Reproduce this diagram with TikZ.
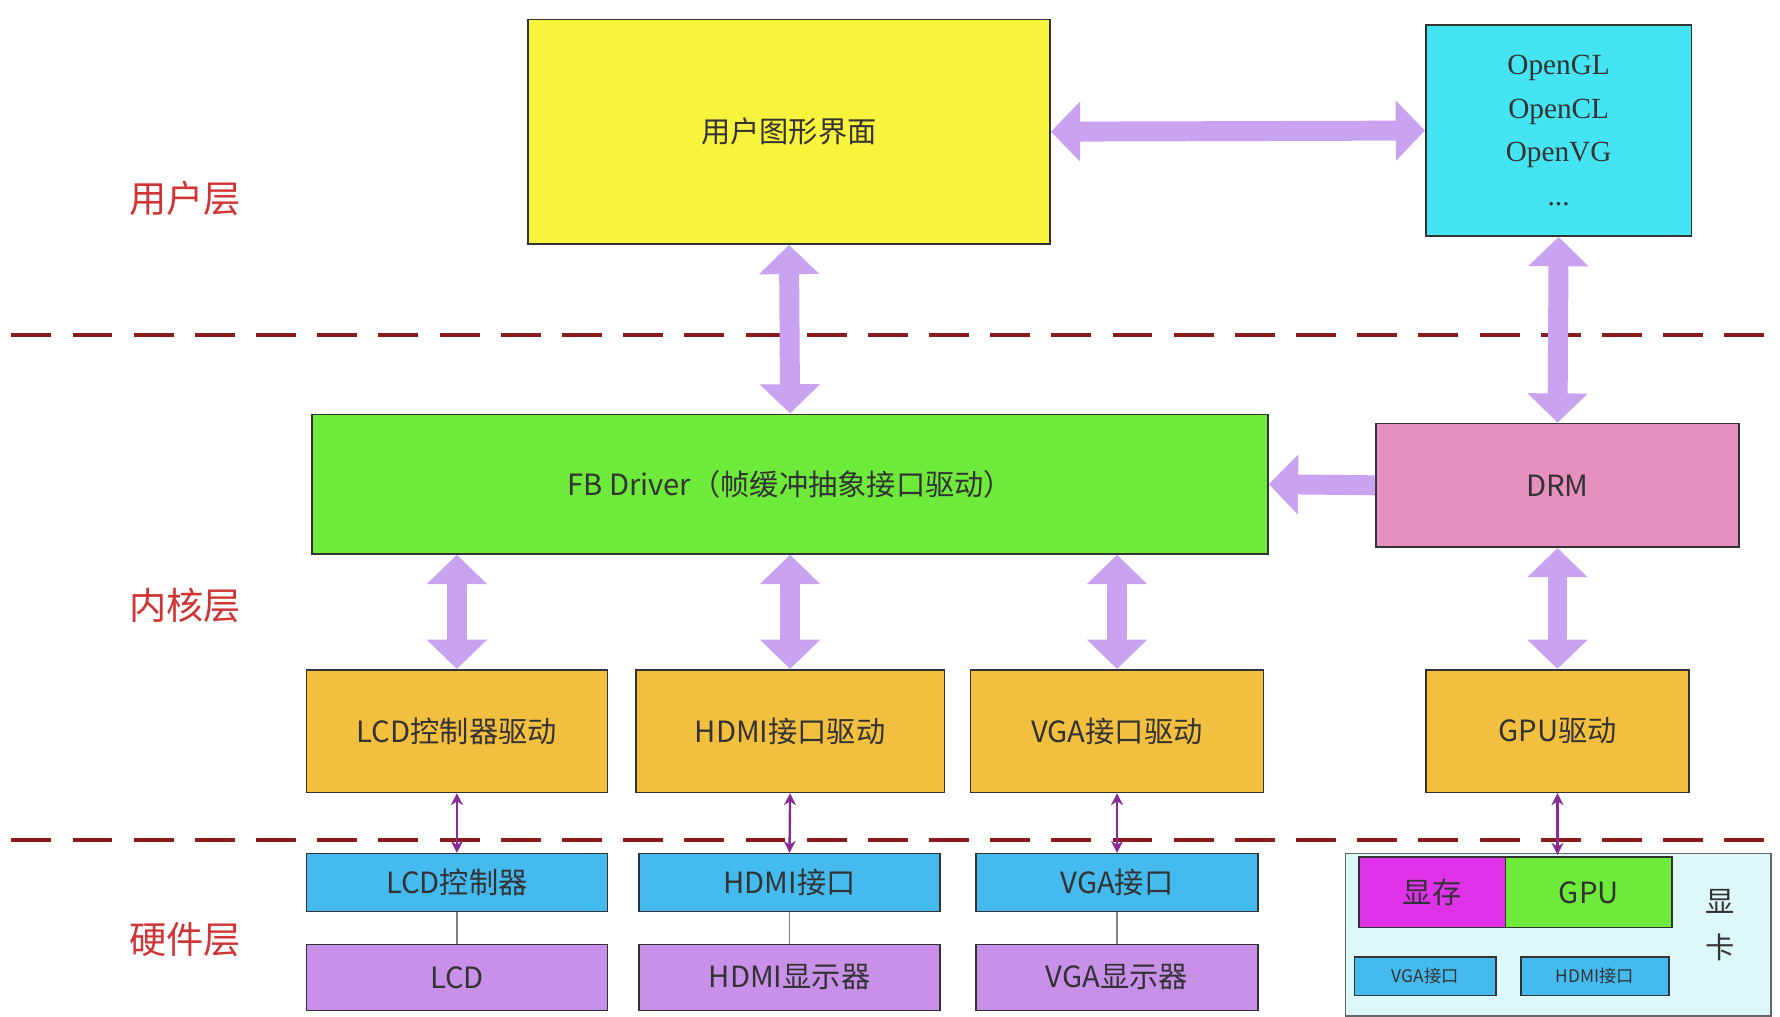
\documentclass[tikz,border=0pt]{standalone}
\usepackage{fontspec}
\setmainfont{Liberation Serif}
\newfontfamily\cjk{Noto Sans CJK SC}
\usetikzlibrary{arrows.meta}
\definecolor{cyel}{HTML}{F8F33C}
\definecolor{ccy}{HTML}{44E4F2}
\definecolor{cgr}{HTML}{6EEA3A}
\definecolor{cpk}{HTML}{E690C0}
\definecolor{cor}{HTML}{F2C03E}
\definecolor{cbl}{HTML}{44BAEE}
\definecolor{cpu}{HTML}{C890E8}
\definecolor{cmg}{HTML}{E032E8}
\definecolor{clav}{HTML}{C9A2F0}
\definecolor{cred}{HTML}{D03434}
\definecolor{cdash}{HTML}{8B1A1A}
\definecolor{ccard}{HTML}{DDF8F8}
\definecolor{ctxt}{HTML}{333333}
\definecolor{cthin}{HTML}{8A2A96}
\begin{document}
\begin{tikzpicture}[x=0.03cm,y=-0.03cm,
  box/.style={draw=black!80,line width=1.2pt,inner sep=0pt,text=ctxt,font=\cjk\fontsize{22}{26}\selectfont},
  sz/.style 2 args={minimum width=#1*0.03cm,minimum height=#2*0.03cm},
  lay/.style={text=cred,font=\cjk\fontsize{28}{32}\selectfont},
  fat/.style={draw=clav,line width=15pt,{Triangle[width=44pt,length=22pt]}-{Triangle[width=44pt,length=22pt]},fill=clav},
  fatone/.style={draw=clav,line width=15pt,-{Triangle[width=44pt,length=22pt]},fill=clav},
  thin/.style={draw=cthin,line width=1.8pt,{Stealth[length=9pt,width=9pt]}-{Stealth[length=9pt,width=9pt]}},
  gline/.style={draw=gray,line width=1pt},
  sep/.style={draw=cdash,line width=3.5pt,dash pattern=on 30pt off 16pt}]
\useasboundingbox (0,0) rectangle (1568,895);
\draw[sep] (10,295) -- (1568,295);
\draw[sep] (10,740) -- (1568,740);
\node[lay] (l1) at (163,175) {用户层};
\node[lay] (l2) at (163,533) {内核层};
\node[lay] (l3) at (163,828) {硬件层};
\node[box,fill=cyel,sz={460}{198}] (ui) at (695,116) {用户图形界面};
\node[box,fill=ccy,sz={234}{186},align=center,font=\fontsize{22}{33}\selectfont] (ogl) at (1373,115) {OpenGL\\OpenCL\\OpenVG\\...};
\node[box,fill=cgr,sz={842}{123}] (fb) at (696,426.5) {FB Driver（帧缓冲抽象接口驱动）};
\node[box,fill=cpk,sz={320}{109}] (drm) at (1372,427.5) {DRM};
\node[box,fill=cor,sz={265}{108}] (lcdd) at (402.5,644) {LCD控制器驱动};
\node[box,fill=cor,sz={272}{108}] (hdmid) at (696,644) {HDMI接口驱动};
\node[box,fill=cor,sz={258}{108}] (vgad) at (984,644) {VGA接口驱动};
\node[box,fill=cor,sz={232}{108}] (gpud) at (1372,644) {GPU驱动};
\node[box,fill=cbl,sz={265}{51}] (lcdc) at (402.5,777.5) {LCD控制器};
\node[box,fill=cbl,sz={265}{51}] (hdmic) at (695.5,777.5) {HDMI接口};
\node[box,fill=cbl,sz={248}{51}] (vgac) at (984,777.5) {VGA接口};
\node[box,fill=cpu,sz={265}{58}] (lcd) at (402.5,861) {LCD};
\node[box,fill=cpu,sz={265}{58}] (hdmi) at (695.5,861) {HDMI显示器};
\node[box,fill=cpu,sz={248}{58}] (vga) at (984,861) {VGA显示器};
\node[box,fill=ccard,draw=black!60,line width=1pt,sz={375}{143}] (card) at (1372.5,823.5) {};
\node[box,fill=cmg,sz={129}{62}] (mem) at (1261.5,786) {显存};
\node[box,fill=cgr,sz={147}{62}] (gpu) at (1399.5,786) {GPU};
\node[text=ctxt,font=\cjk\fontsize{22}{34}\selectfont,align=center] (xk) at (1515,815) {显\\卡};
\node[box,fill=cbl,sz={125}{34},font=\cjk\fontsize{13}{15}\selectfont] (vgas) at (1255.5,860) {VGA接口};
\node[box,fill=cbl,sz={130}{34},font=\cjk\fontsize{13}{15}\selectfont] (hdmis) at (1405,860) {HDMI接口};
\coordinate (gtop) at (1372,753);
\draw[fat] (ui.east) -- (ogl.west);
\draw[fat] (ui.south) -- (fb.north);
\draw[fat] (ogl.south) -- (drm.north);
\draw[fatone] (drm.west) -- (fb.east);
\draw[fat] (lcdd.north |- fb.south) -- (lcdd.north);
\draw[fat] (hdmid.north |- fb.south) -- (hdmid.north);
\draw[fat] (vgad.north |- fb.south) -- (vgad.north);
\draw[fat] (drm.south) -- (gpud.north);
\draw[thin] (lcdd.south) -- (lcdc.north);
\draw[thin] (hdmid.south) -- (hdmic.north);
\draw[thin] (vgad.south) -- (vgac.north);
\draw[thin] (gpud.south) -- (gtop);
\draw[gline] (lcdc.south) -- (lcd.north);
\draw[gline] (hdmic.south) -- (hdmi.north);
\draw[gline] (vgac.south) -- (vga.north);
\end{tikzpicture}
\end{document}
